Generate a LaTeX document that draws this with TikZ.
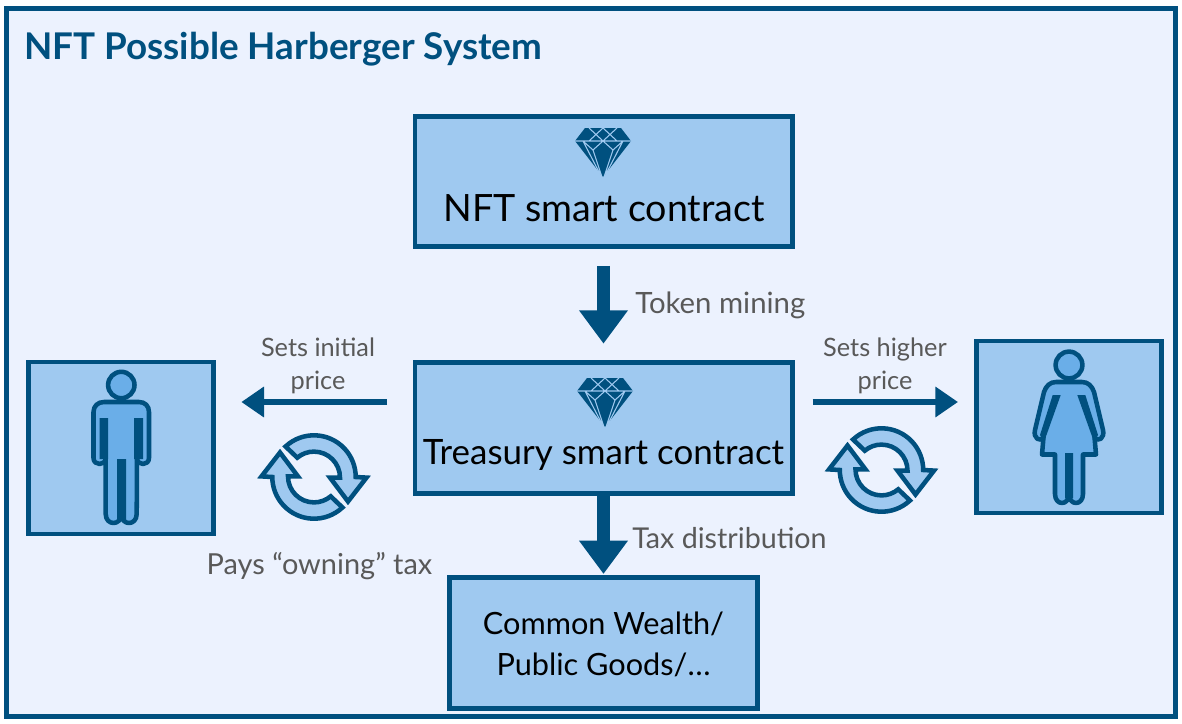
\documentclass[tikz,border=0pt]{standalone}
\usepackage{fontspec}
\setmainfont{Lato}
\usepackage{tikz}
\usetikzlibrary{arrows.meta}
\definecolor{framecol}{HTML}{00507F}
\definecolor{boxcol}{HTML}{9FC9F0}
\definecolor{bodycol}{HTML}{6AAEE8}
\definecolor{backcol}{HTML}{ECF2FE}
\definecolor{labelcol}{HTML}{595959}
\tikzstyle{frame}=[draw=framecol,fill=backcol,line width=3.5pt,inner sep=0pt,minimum width=877pt,minimum height=531pt]
\tikzstyle{box}=[draw=framecol,fill=boxcol,line width=3.5pt,inner sep=0pt]
\tikzstyle{caption}=[text=labelcol,align=center,inner sep=0pt]
\tikzstyle{boxtext}=[text=black,align=center,inner sep=0pt]
\tikzstyle{icon}=[draw=framecol,fill=bodycol,line width=3.4pt,line join=round]
\tikzstyle{bigarrow}=[draw=framecol,line width=9.5pt,-{Triangle[length=25pt,width=35pt]}]
\tikzstyle{smallarrow}=[draw=framecol,line width=4.5pt,-{Triangle[length=17pt,width=22pt]}]
\tikzstyle{facet}=[draw=boxcol,line width=.8pt]
% gem at (x,y), top of the stone
\def\gem#1{
  \begin{scope}[shift={#1}]
    \fill [framecol] (-18,0) -- (18,0) -- (28,13) -- (0,49) -- (-28,13) -- cycle;
    \draw [facet] (-28,13) -- (28,13)
      (-14,0) -- (0,13) -- (14,0) (-14,13) -- (0,0) -- (14,13)
      (-20,13) -- (-10,22) -- (0,13) -- (10,22) -- (20,13)
      (-10,22) -- (-1,49) (10,22) -- (1,49) (-20,13) -- (-3,46) (20,13) -- (3,46);
  \end{scope}}
% two turning arrows around (x,y)
\def\turn#1{
  \begin{scope}[shift={#1},y=.75pt]
    \foreach \a in {0,180} {
      \draw [icon,fill=boxcol,rotate=\a,line join=miter,miter limit=10]
        (133:41.7) arc (133:0:41.7) -- (52.5,-.6) -- (34,-24.5) -- (16,-.6) -- (26,-.6)
        arc (0:130:26) -- cycle;
    }
  \end{scope}}
\begin{document}
\begin{tikzpicture}[x=.75pt,y=-.75pt]
  \useasboundingbox (0,0) rectangle (1182,724);
  \node [frame] (back) at (591,362.5) {};
  \node [anchor=west,inner sep=0pt,text=framecol,font=\fontsize{27.6}{33}\selectfont\bfseries] (title) at (24,49) {NFT Possible Harberger System};

  \node [box,minimum width=283pt,minimum height=97pt] (nft) at (603.5,181.5) {};
  \node [box,minimum width=283pt,minimum height=98pt] (treasury) at (603.5,428) {};
  \node [box,minimum width=231pt,minimum height=98pt] (common) at (603.5,643) {};
  \node [box,minimum width=139pt,minimum height=129pt] (man) at (121,448) {};
  \node [box,minimum width=139pt,minimum height=129pt] (woman) at (1069,427) {};

  \node [boxtext,font=\fontsize{28.2}{34}\selectfont] (nfttext) at (604,208) {NFT smart contract};
  \node [boxtext,font=\fontsize{26.2}{32}\selectfont] (treasurytext) at (603.5,455) {Treasury smart contract};
  \node [boxtext,font=\fontsize{23}{31}\selectfont] (commontext) at (603.5,644.5) {Common Wealth/\\Public Goods/\dots};

  \gem{(603,128)}
  \gem{(605,378)}

  % man
  \draw [icon] (121.3,385) circle (13.2);
  \draw [icon] (104,402) -- (139,402) .. controls (145,402) and (149,406) .. (149,412)
    -- (149,458) .. controls (149,466) and (137,466) .. (137,458) -- (136.7,514)
    .. controls (136.7,526) and (121.3,526) .. (121.3,514)
    .. controls (121.3,526) and (105.7,526) .. (105.7,514) -- (105.7,458)
    .. controls (105.7,466) and (93.5,466) .. (93.5,458) -- (93.5,412)
    .. controls (93.5,406) and (98,402) .. (104,402) -- cycle;
  \fill [framecol] (99.5,418) rectangle (108,459) (134,418) rectangle (143,459) (117,459) rectangle (126,520);

  % woman
  \draw [icon] (1069,365) circle (13.4);
  \begin{scope}[shift={(1069,0)}]
    \draw [icon] (-13,382) -- (13,382) .. controls (19,382) and (23,386) .. (25,392)
      -- (34,430) .. controls (36,438) and (29,443) .. (25.5,437) -- (27,454.5)
      -- (14,454.5) -- (14,494) .. controls (14,506) and (0,506) .. (0,494)
      .. controls (0,506) and (-14,506) .. (-14,494) -- (-14,454.5) -- (-27,454.5)
      -- (-25.5,437) .. controls (-29,443) and (-36,438) .. (-34,430) -- (-25,392)
      .. controls (-23,386) and (-19,382) .. (-13,382) -- cycle;
    \fill [framecol] (8.3,395) -- (16.3,395) -- (29,435) -- (25,442) -- cycle
      (-8.3,395) -- (-16.3,395) -- (-29,435) -- (-25,442) -- cycle
      (-4,453) rectangle (4,498);
  \end{scope}

  \turn{(314,477)}
  \turn{(881.5,470)}

  \draw [bigarrow,shorten <=13pt,shorten >=12.5pt] (nft.south) -- (treasury.north);
  \draw [bigarrow,shorten >=1pt] (treasury.south) -- (common.north);
  \draw [smallarrow,shorten <=19pt,shorten >=19pt] ([yshift=19.5pt]treasury.west) -- ([yshift=34.5pt]man.east);
  \draw [smallarrow,shorten <=13.5pt,shorten >=12pt] ([yshift=19.5pt]treasury.east) -- ([yshift=18.75pt]woman.west);

  \node [caption,anchor=west,font=\fontsize{22}{26}\selectfont] (mining) at (635,305) {Token mining};
  \node [caption,anchor=west,font=\fontsize{21.5}{26}\selectfont] (tax) at (632,538) {Tax distribution};
  \node [caption,font=\fontsize{21.7}{26}\selectfont] (pays) at (319.5,566) {Pays “owning” tax};
  \node [caption,font=\fontsize{19}{25}\selectfont] (initial) at (318,366) {Sets initial\\price};
  \node [caption,font=\fontsize{19}{25}\selectfont] (higher) at (885,366) {Sets higher\\price};
\end{tikzpicture}
\end{document}
